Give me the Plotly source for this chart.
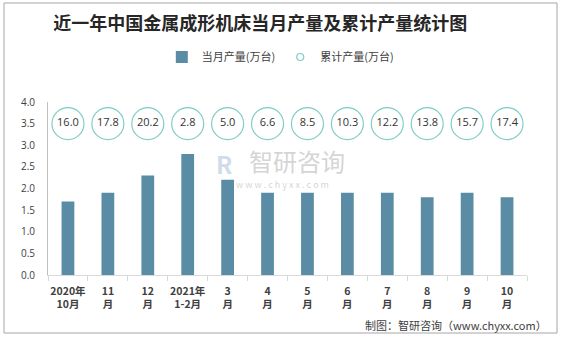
import plotly.graph_objects as go

categories = ["2020年<br>10月", "11<br>月", "12<br>月", "2021年<br>1-2月", "3<br>月", "4<br>月",
              "5<br>月", "6<br>月", "7<br>月", "8<br>月", "9<br>月", "10<br>月"]
monthly = [1.7, 1.9, 2.3, 2.8, 2.2, 1.9, 1.9, 1.9, 1.9, 1.8, 1.9, 1.8]
cumulative = [16.0, 17.8, 20.2, 2.8, 5.0, 6.6, 8.5, 10.3, 12.2, 13.8, 15.7, 17.4]
label_row = [3.5] * len(categories)

FONT = "Noto Sans CJK SC"
BAR_COLOR = "#5B8CA5"
RING_COLOR = "#7ECDC6"

fig = go.Figure()
fig.add_trace(go.Bar(
    x=categories, y=monthly, name="当月产量(万台)",
    marker=dict(color=BAR_COLOR, line=dict(width=0)),
    width=0.32,
))
fig.add_trace(go.Scatter(
    x=categories, y=label_row, name="累计产量(万台)", showlegend=False,
    mode="markers+text",
    text=[f"{v:.1f}" for v in cumulative],
    textposition="middle center",
    textfont=dict(size=11, color="#333333", family="Open Sans"),
    marker=dict(symbol="circle", size=32, color="white",
                line=dict(color=RING_COLOR, width=1.2)),
    cliponaxis=False,
))
# legend entry for the cumulative series (small ring like the reference)
fig.add_trace(go.Scatter(
    x=[None], y=[None], name="累计产量(万台)", mode="markers",
    marker=dict(symbol="circle", size=7, color="white",
                line=dict(color=RING_COLOR, width=1.2)),
))

fig.update_layout(
    width=562, height=337,
    margin=dict(l=48, r=35, t=102, b=62),
    paper_bgcolor="white", plot_bgcolor="white",
    font=dict(family=FONT, color="#404040"),
    title=dict(text="<b>近一年中国金属成形机床当月产量及累计产量统计图</b>",
               x=0.463, xanchor="center", y=0.93, yanchor="middle",
               font=dict(size=18, color="#262626", family=FONT)),
    legend=dict(orientation="h", x=0.485, xanchor="center", y=1.26, yanchor="middle",
                font=dict(size=11, color="#404040"), itemsizing="trace",
                itemwidth=30, tracegroupgap=0, bgcolor="rgba(0,0,0,0)"),
    showlegend=True,
)
fig.update_xaxes(
    range=[-0.5, len(categories) - 0.5],
    tickmode="array", tickvals=categories,
    ticktext=[f"<b>{c}</b>" for c in categories],
    showline=True, linecolor="#d9d9d9", linewidth=1,
    ticks="outside", tickson="boundaries", ticklen=5, tickcolor="#d9d9d9",
    ticklabelstandoff=6,
    tickfont=dict(size=10.5, color="#404040", family=FONT),
    tickangle=0, showgrid=False,
)
fig.update_yaxes(
    range=[0, 4], dtick=0.5, tickformat=".1f",
    showline=True, linecolor="#bfbfbf", linewidth=1,
    ticks="", ticklabelstandoff=10,
    tickfont=dict(size=10, color="#404040", family="Open Sans"),
    showgrid=False, zeroline=False,
)

# outer border
fig.add_shape(type="rect", xref="paper", yref="paper",
              x0=(4 - 48) / 479, x1=(557 - 48) / 479,
              y0=(275 - 333) / 173, y1=(275 - 3) / 173,
              line=dict(color="#a6a6a6", width=1), fillcolor="rgba(0,0,0,0)", layer="below")

# watermark
fig.add_annotation(xref="paper", yref="paper", x=(297 - 48) / 479, y=(275 - 160) / 173,
                   text="智研咨询", showarrow=False, borderpad=0,
                   font=dict(size=24, color="rgba(170,170,170,0.5)", family=FONT))
fig.add_annotation(xref="paper", yref="paper", x=(282 - 48) / 479, y=(275 - 184) / 173,
                   text="w w w . c h y x x . c o m", showarrow=False, borderpad=0,
                   font=dict(size=9, color="rgba(170,170,170,0.5)", family=FONT))
fig.add_annotation(xref="paper", yref="paper", x=(224 - 48) / 479, y=(275 - 163) / 173,
                   text="<b>R</b>", showarrow=False,
                   font=dict(size=24, color="rgba(150,175,210,0.45)", family=FONT))

# source
fig.add_annotation(xref="paper", yref="paper", x=(549 - 48) / 479, xanchor="right",
                   y=(275 - 325) / 173, yanchor="middle",
                   text="制图：智研咨询（www.chyxx.com）", showarrow=False,
                   font=dict(size=11, color="#404040", family=FONT))

fig.write_html("out.html")
